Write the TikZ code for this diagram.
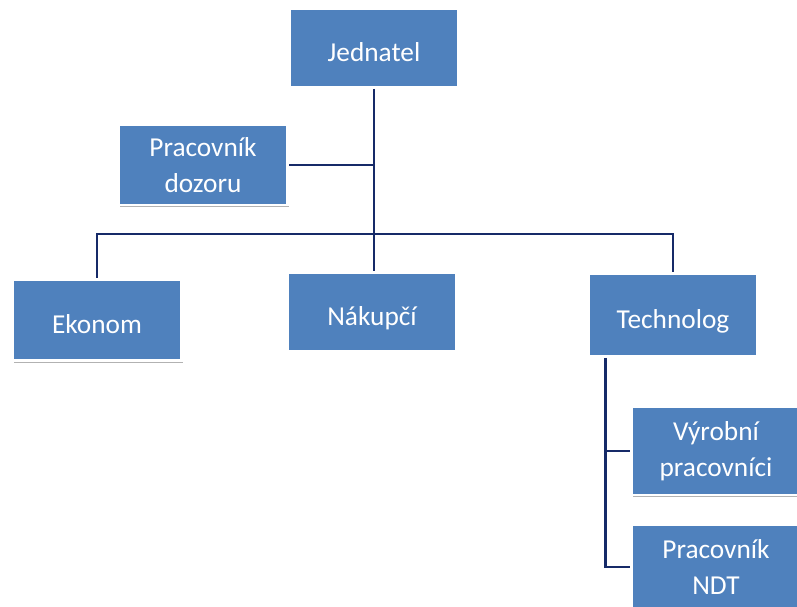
\documentclass[tikz,border=0pt]{standalone}
\usepackage{fontspec}
\setmainfont{Carlito}
\usetikzlibrary{shadows}
\definecolor{boxblue}{RGB}{79,129,189}
\definecolor{linkblue}{RGB}{22,42,104}
\tikzset{
  orgbox/.style={rectangle, fill=boxblue, draw=white, line width=2.2pt,
    text=white, align=center, minimum width=127pt, minimum height=59pt,
    font=\fontsize{20.5}{27}\selectfont,
    drop shadow={shadow xshift=1pt, shadow yshift=-1.5pt, fill=black, opacity=.3}},
  oneline/.style={text height=21pt, text depth=0.3pt},
  link/.style={draw=linkblue, line width=2pt}
}
\begin{document}
\begin{tikzpicture}[x=0.75pt,y=-0.75pt]
\useasboundingbox (0,0) rectangle (797,607);
% Boxes
\node[orgbox, oneline] (jednatel) at (374,48) {Jednatel};
\node[orgbox, minimum height=60pt] (dozor) at (203,165) {Pracovník\\dozoru};
\node[orgbox, oneline, minimum height=61pt] (ekonom) at (97,320) {Ekonom};
\node[orgbox, oneline] (nakupci) at (372,312) {Nákupčí};
\node[orgbox, oneline, minimum height=62pt] (technolog) at (673,315) {Technolog};
\node[orgbox, minimum height=66pt] (vyrobni) at (716,451) {Výrobní\\pracovníci};
\node[orgbox, minimum height=63pt] (ndt) at (716,567) {Pracovník\\NDT};
% Top links
\draw[link] (jednatel.south) -- (jednatel.south |- nakupci.north);
\draw[link] (dozor.east) -- (dozor.east -| jednatel.south);
% Bus
\coordinate (busleft) at (97,234);
\draw[link] (ekonom.north) -- (busleft) -- (busleft -| technolog.north) -- (technolog.north);
% Technolog branch
\coordinate (trunk) at ([xshift=14pt]technolog.south west);
\draw[link] (trunk) |- (ndt.west);
\draw[link] (trunk |- vyrobni.west) -- (vyrobni.west);
\end{tikzpicture}
\end{document}
